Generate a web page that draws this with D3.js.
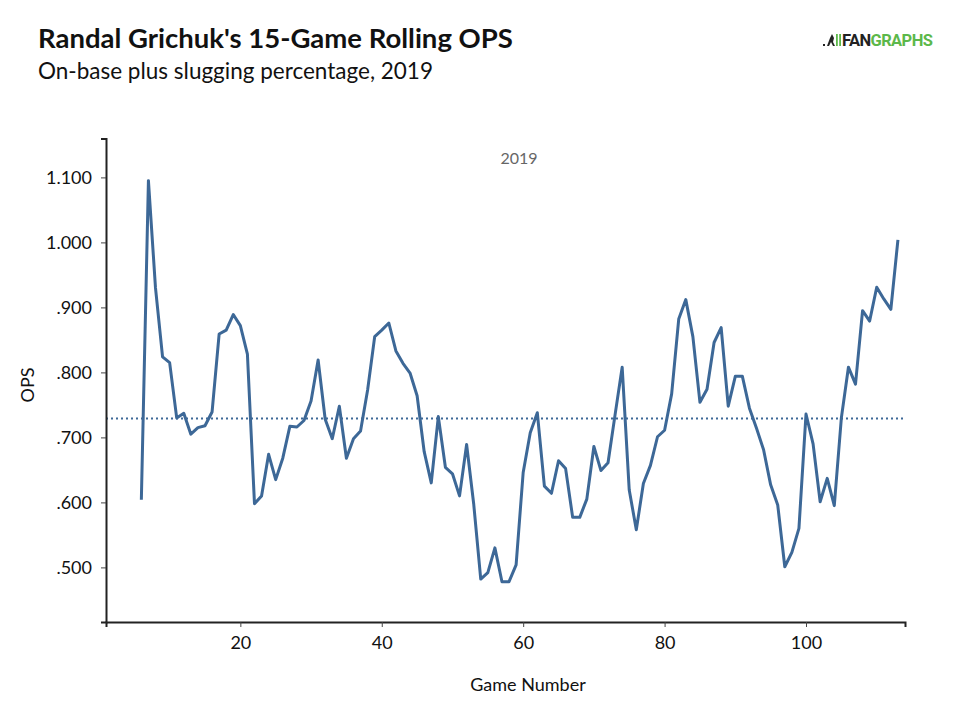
<!DOCTYPE html>
<html>
<head>
<meta charset="utf-8">
<script src="https://cdn.jsdelivr.net/npm/d3@7"></script>
<style>
  html, body { margin: 0; padding: 0; background: #fff; }
  svg { display: block; font-family: Lato, "Open Sans", sans-serif; }
</style>
</head>
<body>
<svg id="chart" width="960" height="706"></svg>
<script>
// 15-game rolling OPS, games 6..113
const firstGame = 6;
const ops = [
  0.604, 1.095, 0.930, 0.824, 0.815, 0.730, 0.737, 0.705, 0.715, 0.718,
  0.739, 0.859, 0.865, 0.889, 0.872, 0.828, 0.598, 0.610, 0.674, 0.635,
  0.668, 0.717, 0.716, 0.726, 0.756, 0.819, 0.728, 0.698, 0.748, 0.668,
  0.698, 0.710, 0.773, 0.855, 0.865, 0.876, 0.833, 0.814, 0.799, 0.764,
  0.678, 0.630, 0.732, 0.654, 0.644, 0.610, 0.689, 0.598, 0.482, 0.492,
  0.530, 0.478, 0.478, 0.504, 0.646, 0.707, 0.738, 0.625, 0.614, 0.664,
  0.652, 0.577, 0.577, 0.605, 0.686, 0.649, 0.661, 0.735, 0.808, 0.619,
  0.558, 0.629, 0.657, 0.701, 0.711, 0.767, 0.882, 0.912, 0.855, 0.754,
  0.774, 0.846, 0.869, 0.748, 0.794, 0.794, 0.745, 0.714, 0.681, 0.627,
  0.596, 0.501, 0.523, 0.560, 0.736, 0.690, 0.601, 0.637, 0.595, 0.730,
  0.808, 0.782, 0.895, 0.879, 0.931, 0.913, 0.897, 1.004
];
const seasonOps = 0.729;
const xTicks = [20, 40, 60, 80, 100];
const yTicks = [0.5, 0.6, 0.7, 0.8, 0.9, 1.0, 1.1];

const data = ops.map((v, i) => ({ game: firstGame + i, ops: v }));

const svg = d3.select('#chart');
const lineColor = '#3d6897';

const x = d3.scaleLinear().domain([1, 114]).range([106, 905]);
const y = d3.scaleLinear().domain([0.416, 1.16]).range([622, 138.4]);

// 標題
svg.append('text')
  .attr('x', 38).attr('y', 48)
  .attr('font-size', 27.5).attr('font-weight', 700).attr('fill', '#111')
  .text("Randal Grichuk's 15-Game Rolling OPS");
svg.append('text')
  .attr('x', 38).attr('y', 79)
  .attr('font-size', 22.5).attr('fill', '#111')
  .text('On-base plus slugging percentage, 2019');

// logo
const logo = svg.append('g').attr('transform', 'translate(823,47)');
logo.append('rect').attr('x', 0).attr('y', -3).attr('width', 2).attr('height', 2).attr('fill', '#222');
logo.append('path')
  .attr('d', 'M4,-1 L7,-9 L9,-13 L11,-9 L10,-5 L12,-1 L10,-1 L8,-5 L6,-1 Z')
  .attr('fill', '#222');
logo.append('rect').attr('x', 13).attr('y', -13).attr('width', 1.8).attr('height', 12).attr('fill', '#5cb84a');
logo.append('rect').attr('x', 16.2).attr('y', -13).attr('width', 1.8).attr('height', 12).attr('fill', '#5cb84a');
const logoText = logo.append('text')
  .attr('x', 19).attr('y', -1)
  .attr('font-size', 16.5).attr('font-weight', 700)
  .attr('font-family', 'Roboto, "Liberation Sans", sans-serif')
  .attr('letter-spacing', -0.6);
logoText.append('tspan').attr('fill', '#222').text('FAN');
logoText.append('tspan').attr('fill', '#5cb84a').text('GRAPHS');

// 年份標籤
svg.append('text')
  .attr('x', 519).attr('y', 164)
  .attr('text-anchor', 'middle')
  .attr('font-size', 16).attr('fill', '#666')
  .text('2019');

// 平均線
svg.append('line')
  .attr('x1', x(1)).attr('x2', x(114))
  .attr('y1', y(seasonOps)).attr('y2', y(seasonOps))
  .attr('stroke', lineColor).attr('stroke-width', 2)
  .attr('stroke-dasharray', '2,3');

// 折線
svg.append('path')
  .datum(data)
  .attr('fill', 'none')
  .attr('stroke', lineColor)
  .attr('stroke-width', 3)
  .attr('stroke-linejoin', 'round')
  .attr('d', d3.line().x((d) => x(d.game)).y((d) => y(d.ops)));

// 座標軸
const fmt = (v) => (v >= 1 ? v.toFixed(3) : v.toFixed(3).slice(1));

const gx = svg.append('g')
  .attr('transform', `translate(0,${y.range()[0]})`)
  .call(d3.axisBottom(x).tickValues(xTicks).tickSizeOuter(0).tickSize(5).tickPadding(9));
const gy = svg.append('g')
  .attr('transform', `translate(${x.range()[0]},0)`)
  .call(d3.axisLeft(y).tickValues(yTicks).tickFormat(fmt).tickSizeOuter(0).tickSize(5).tickPadding(9));

[gx, gy].forEach((g) => {
  g.select('.domain').attr('stroke', '#222').attr('stroke-width', 2);
  g.selectAll('.tick line').attr('stroke', '#444').attr('stroke-width', 1);
  g.selectAll('.tick text')
    .attr('font-family', 'Lato, "Open Sans", sans-serif')
    .attr('font-size', 18).attr('fill', '#111');
});

svg.append('text')
  .attr('x', 528).attr('y', 691)
  .attr('text-anchor', 'middle')
  .attr('font-size', 18).attr('fill', '#111')
  .text('Game Number');
svg.append('text')
  .attr('transform', 'translate(34,385) rotate(-90)')
  .attr('text-anchor', 'middle')
  .attr('font-size', 18).attr('fill', '#111')
  .text('OPS');
</script>
</body>
</html>
